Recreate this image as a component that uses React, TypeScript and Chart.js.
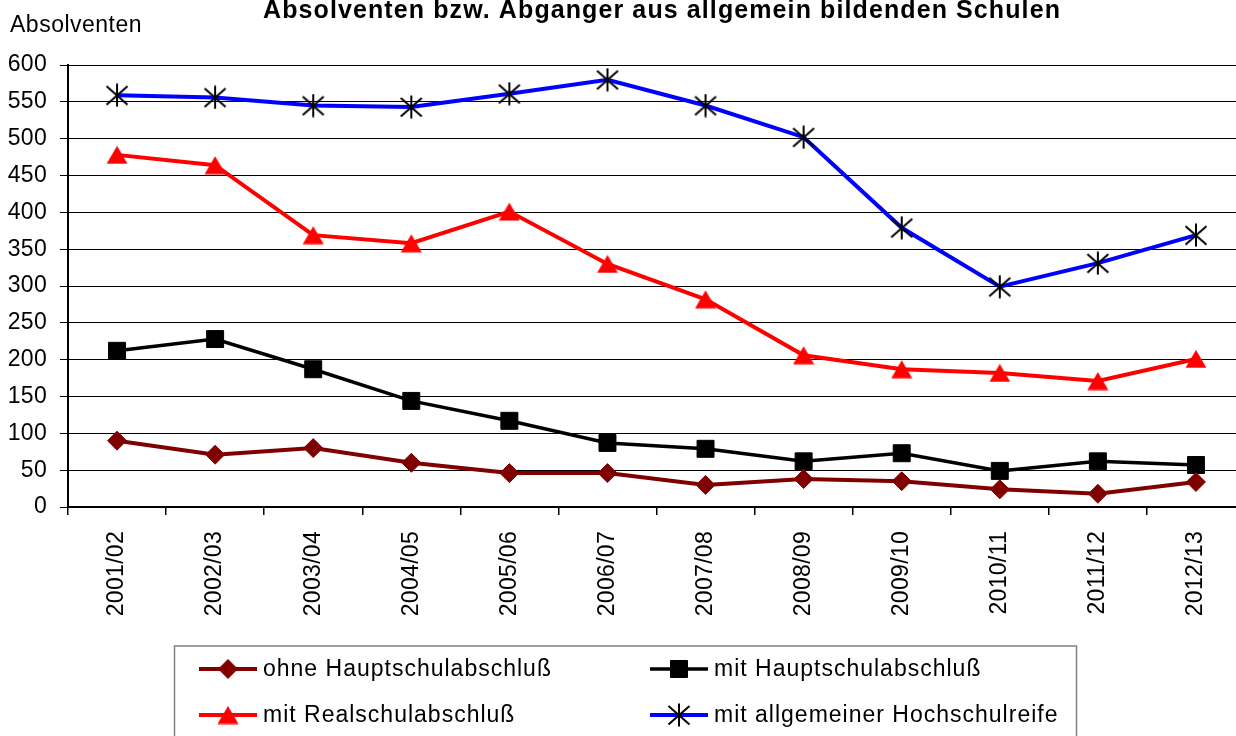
import React, { useEffect, useRef } from 'react';
import { Chart, registerables } from 'chart.js';
import { drawPoint } from 'chart.js/helpers';

Chart.register(...registerables);

const TITLE = 'Absolventen bzw. Abganger aus allgemein bildenden Schulen';
const Y_LABEL = 'Absolventen';
const CATEGORIES = ['2001/02', '2002/03', '2003/04', '2004/05', '2005/06', '2006/07', '2007/08', '2008/09', '2009/10', '2010/11', '2011/12', '2012/13'];
const SERIES_NAMES = ['ohne Hauptschulabschluß', 'mit Hauptschulabschluß', 'mit Realschulabschluß', 'mit allgemeiner Hochschulreife'];
const OHNE_HS = [90, 71, 80, 60, 46, 46, 30, 38, 35, 24, 18, 34];
const MIT_HS = [212, 228, 187, 144, 117, 87, 79, 62, 73, 49, 62, 57];
const MIT_RS = [478, 464, 369, 358, 401, 330, 282, 206, 187, 182, 171, 201];
const MIT_HR = [559, 556, 545, 543, 561, 580, 545, 502, 379, 299, 331, 369];
const Y_MIN = 0;
const Y_MAX = 600;
const Y_STEP = 50;

const FONT = "'Liberation Sans', Arial, sans-serif";

function makeStar(): HTMLCanvasElement {
  const c = document.createElement('canvas');
  c.width = 24;
  c.height = 24;
  const g = c.getContext('2d')!;
  g.strokeStyle = '#000';
  g.lineWidth = 2;
  g.beginPath();
  g.moveTo(1.5, 3);
  g.lineTo(22.5, 21.5);
  g.moveTo(22.5, 3);
  g.lineTo(1.5, 21.5);
  g.moveTo(12, 0.5);
  g.lineTo(12, 23.5);
  g.stroke();
  return c;
}

function makeTriangle(): HTMLCanvasElement {
  const c = document.createElement('canvas');
  c.width = 22;
  c.height = 19;
  const g = c.getContext('2d')!;
  g.fillStyle = '#FF0000';
  g.beginPath();
  g.moveTo(11, 0.5);
  g.lineTo(21.5, 18.5);
  g.lineTo(0.5, 18.5);
  g.closePath();
  g.fill();
  return c;
}

const spacingPlugin = {
  id: 'spacing',
  beforeUpdate(chart: any) {
    chart.ctx.letterSpacing = '0.3px';
  },
  beforeDraw(chart: any) {
    chart.ctx.letterSpacing = '0.3px';
  },
};

const textPlugin = {
  id: 'texts',
  afterDraw(chart: any) {
    const ctx = chart.ctx;
    ctx.save();
    ctx.fillStyle = '#000';
    ctx.textAlign = 'left';
    ctx.textBaseline = 'alphabetic';
    ctx.letterSpacing = '1.1px';
    ctx.font = `bold 25px ${FONT}`;
    ctx.fillText(TITLE, 263, 18);
    ctx.letterSpacing = '0.5px';
    ctx.font = `23px ${FONT}`;
    ctx.fillText(Y_LABEL, 10, 32);
    ctx.restore();
  },
};

const legendPlugin = {
  id: 'boxLegend',
  afterDraw(chart: any) {
    const ctx = chart.ctx;
    ctx.save();
    ctx.strokeStyle = '#808080';
    ctx.lineWidth = 1.5;
    ctx.strokeRect(174.5, 646, 902, 130);
    const pos = [
      [199, 669],
      [650, 669],
      [199, 715],
      [650, 715],
    ];
    chart.data.datasets.forEach((ds: any, i: number) => {
      const [x, y] = pos[i];
      ctx.strokeStyle = ds.borderColor;
      ctx.lineWidth = ds.borderWidth;
      ctx.beginPath();
      ctx.moveTo(x, y);
      ctx.lineTo(x + 58, y);
      ctx.stroke();
      ctx.fillStyle = ds.pointBackgroundColor;
      ctx.strokeStyle = ds.pointBorderColor;
      ctx.lineWidth = 1;
      drawPoint(ctx, { pointStyle: ds.pointStyle, radius: ds.pointRadius, borderWidth: 1, rotation: 0 }, x + 29, y);
      ctx.fillStyle = '#000';
      ctx.font = `23px ${FONT}`;
      ctx.letterSpacing = '1px';
      ctx.textAlign = 'left';
      ctx.textBaseline = 'middle';
      ctx.fillText(ds.label, x + 64, y + 1);
    });
    ctx.restore();
  },
};

export default function App() {
  const ref = useRef<HTMLCanvasElement>(null);

  useEffect(() => {
    if (!ref.current) return;
    Chart.defaults.color = '#000';
    Chart.defaults.font.family = FONT;
    const star = makeStar();
    const tri = makeTriangle();
    const chart = new Chart(ref.current, {
      type: 'line',
      data: {
        labels: CATEGORIES,
        datasets: [
          {
            label: SERIES_NAMES[0],
            data: OHNE_HS,
            borderColor: '#800000',
            backgroundColor: '#800000',
            pointBackgroundColor: '#800000',
            pointBorderColor: '#800000',
            borderWidth: 4,
            pointStyle: 'rectRot',
            pointRadius: 9.5,
            pointBorderWidth: 1,
            tension: 0,
          },
          {
            label: SERIES_NAMES[1],
            data: MIT_HS,
            borderColor: '#000000',
            backgroundColor: '#000000',
            pointBackgroundColor: '#000000',
            pointBorderColor: '#000000',
            borderWidth: 3.5,
            pointStyle: 'rect',
            pointRadius: 12,
            pointBorderWidth: 1,
            tension: 0,
          },
          {
            label: SERIES_NAMES[2],
            data: MIT_RS,
            borderColor: '#FF0000',
            backgroundColor: '#FF0000',
            pointBackgroundColor: '#FF0000',
            pointBorderColor: '#FF0000',
            borderWidth: 4,
            pointStyle: tri,
            pointRadius: 10,
            pointBorderWidth: 1,
            tension: 0,
          },
          {
            label: SERIES_NAMES[3],
            data: MIT_HR,
            borderColor: '#0000FF',
            backgroundColor: '#0000FF',
            pointBackgroundColor: '#000000',
            pointBorderColor: '#000000',
            borderWidth: 4,
            pointStyle: star,
            pointRadius: 11,
            pointBorderWidth: 1,
            tension: 0,
          },
        ],
      },
      options: {
        animation: false,
        responsive: false,
        events: [],
        layout: { padding: { top: 65, right: 2, bottom: 0, left: 0 } },
        plugins: {
          legend: { display: false },
          title: { display: false },
          tooltip: { enabled: false },
        },
        scales: {
          x: {
            type: 'category',
            offset: true,
            grid: {
              display: true,
              drawOnChartArea: false,
              drawTicks: true,
              tickLength: 8,
              color: '#000',
              lineWidth: 1.5,
              offset: true,
            },
            border: { display: true, color: '#000', width: 2 },
            ticks: {
              autoSkip: false,
              minRotation: 90,
              maxRotation: 90,
              padding: 16,
              color: '#000',
              font: { size: 23, family: FONT },
            },
            afterFit: (s: any) => {
              s.height = 229;
            },
          },
          y: {
            min: Y_MIN,
            max: Y_MAX,
            grid: {
              display: true,
              drawOnChartArea: true,
              drawTicks: true,
              tickLength: 8,
              color: '#000',
              lineWidth: 1,
            },
            border: { display: true, color: '#000', width: 2 },
            ticks: {
              stepSize: Y_STEP,
              padding: 13,
              color: '#000',
              font: { size: 23, family: FONT },
            },
            afterFit: (s: any) => {
              s.width = 68;
            },
          },
        },
      },
      plugins: [spacingPlugin, textPlugin, legendPlugin],
    } as any);
    return () => chart.destroy();
  }, []);

  return (
    <div style={{ position: 'absolute', left: 0, top: 0, width: 1236, height: 736, overflow: 'hidden', background: '#fff' }}>
      <canvas ref={ref} width={1258} height={736} style={{ width: 1258, height: 736, display: 'block' }} />
    </div>
  );
}
